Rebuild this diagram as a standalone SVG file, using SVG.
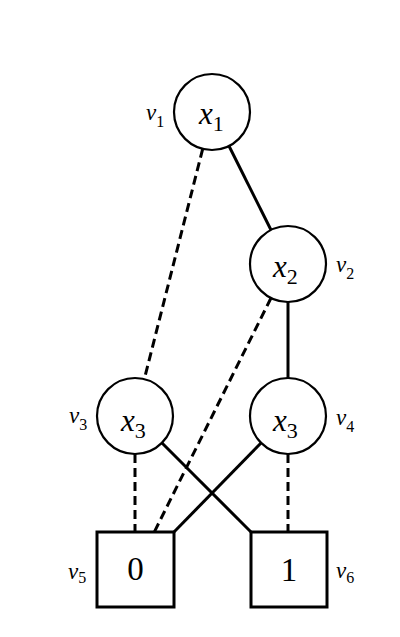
<svg xmlns="http://www.w3.org/2000/svg" width="400" height="637" viewBox="0 0 400 637">
<style>
.node{fill:#fff;stroke:#000;stroke-width:2.2}
.term{fill:#fff;stroke:#000;stroke-width:3}
.solid{stroke:#000;stroke-width:3;fill:none}
.dash{stroke:#000;stroke-width:3;fill:none;stroke-dasharray:9 5}
.var{font-family:"Liberation Serif",serif;font-style:italic;font-size:31px;fill:#000}
.vsub{font-family:"Liberation Serif",serif;font-style:normal;font-size:22px}
.lab{font-family:"Liberation Serif",serif;font-style:italic;font-size:23px;fill:#000}
.lsub{font-family:"Liberation Serif",serif;font-style:normal;font-size:16px}
.num{font-family:"Liberation Serif",serif;font-size:33px;fill:#000;text-anchor:middle}
</style>
<rect width="400" height="637" fill="#fff"/>
<g id="connectors">
<line class="dash" x1="202.7" y1="148.8" x2="144.3" y2="379.2"/>
<line class="solid" x1="229" y1="146" x2="271" y2="230"/>
<line class="dash" x1="271" y1="298" x2="154.3" y2="532"/>
<line class="solid" x1="288" y1="302" x2="288" y2="378"/>
<line class="dash" x1="135" y1="454" x2="135" y2="532"/>
<line class="solid" x1="162" y1="443" x2="251" y2="532"/>
<line class="solid" x1="261" y1="443" x2="174" y2="532"/>
<line class="dash" x1="288" y1="454" x2="288" y2="532"/>
</g>
<g id="v1">
<circle class="node" cx="212" cy="112" r="38"/>
<text class="var" x="199" y="124">x<tspan class="vsub" dy="7">1</tspan></text>
<text class="lab" x="146" y="120">v<tspan class="lsub" dy="7">1</tspan></text>
</g>
<g id="v2">
<circle class="node" cx="288" cy="264" r="38"/>
<text class="var" x="273" y="277">x<tspan class="vsub" dy="7">2</tspan></text>
<text class="lab" x="336" y="272">v<tspan class="lsub" dy="7">2</tspan></text>
</g>
<g id="v3">
<circle class="node" cx="135" cy="416" r="38"/>
<text class="var" x="121" y="431">x<tspan class="vsub" dy="7">3</tspan></text>
<text class="lab" x="69" y="423">v<tspan class="lsub" dy="7">3</tspan></text>
</g>
<g id="v4">
<circle class="node" cx="288" cy="416" r="38"/>
<text class="var" x="273" y="431">x<tspan class="vsub" dy="7">3</tspan></text>
<text class="lab" x="336" y="425">v<tspan class="lsub" dy="7">4</tspan></text>
</g>
<g id="v5">
<rect class="term" x="97" y="532" width="77" height="75"/>
<text class="num" x="135.5" y="580">0</text>
<text class="lab" x="68" y="579">v<tspan class="lsub" dy="4">5</tspan></text>
</g>
<g id="v6">
<rect class="term" x="251" y="532" width="76" height="75"/>
<text class="num" x="289" y="581">1</text>
<text class="lab" x="336" y="578">v<tspan class="lsub" dy="5">6</tspan></text>
</g>
</svg>
